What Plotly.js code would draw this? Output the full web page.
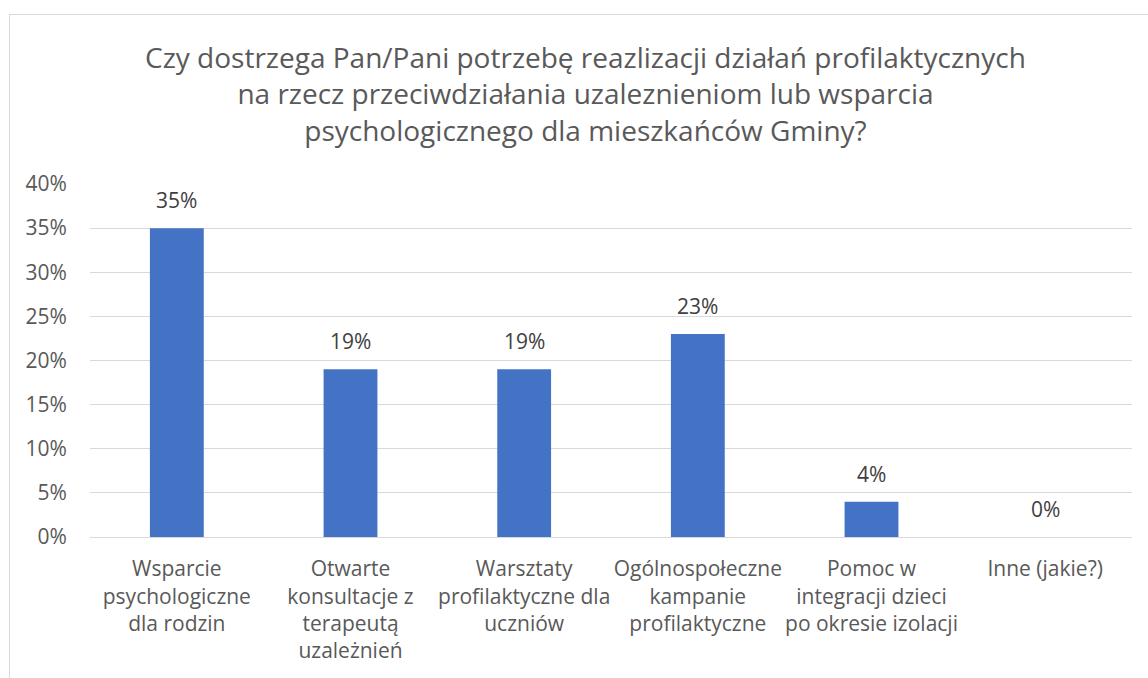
<!DOCTYPE html>
<html>
<head>
<meta charset="utf-8">
<script src="https://cdn.plot.ly/plotly-3.0.1.min.js"></script>
<style>
html,body{margin:0;padding:0;background:#fff;overflow:hidden;}
#frame{position:absolute;left:9px;top:14px;width:1200px;height:700px;border-left:1.5px solid #d9d9d9;border-top:1.5px solid #d9d9d9;pointer-events:none;}
#chart{position:absolute;left:0;top:0;width:1148px;height:678px;}
</style>
</head>
<body>
<div id="chart"></div>
<div id="frame"></div>
<script>
const categories = [
  "Wsparcie<br>psychologiczne<br>dla rodzin",
  "Otwarte<br>konsultacje z<br>terapeutą<br>uzależnień",
  "Warsztaty<br>profilaktyczne dla<br>uczniów",
  "Ogólnospołeczne<br>kampanie<br>profilaktyczne",
  "Pomoc w<br>integracji dzieci<br>po okresie izolacji",
  "Inne (jakie?)"
];
const values = [0.35, 0.19, 0.19, 0.23, 0.04, 0.00];
const titleText = "Czy dostrzega Pan/Pani potrzebę reazlizacji działań profilaktycznych<br>na rzecz przeciwdziałania uzaleznieniom lub wsparcia<br>psychologicznego dla mieszkańców Gminy?";
const yTicks = [0,0.05,0.1,0.15,0.2,0.25,0.3,0.35,0.4];

const fontFam = "Open Sans, sans-serif";
const trace = {
  type: "bar",
  x: categories,
  y: values,
  marker: {color: "#4472C4"},
  width: 0.31,
  hoverinfo: "skip"
};
const annotations = categories.map((c, i) => ({
  x: c, y: values[i], xref: "x", yref: "y",
  text: Math.round(values[i]*100) + "%",
  showarrow: false, yanchor: "bottom", yshift: 12,
  font: {family: fontFam, size: 21, color: "#404040"}
}));
const layout = {
  width: 1148, height: 678,
  margin: {l: 90, r: 16, t: 184, b: 141},
  paper_bgcolor: "#ffffff", plot_bgcolor: "#ffffff",
  showlegend: false,
  title: {
    text: titleText,
    font: {family: fontFam, size: 28, color: "#595959"},
    x: 0.51, xanchor: "center",
    y: 1 - 68/678, yref: "container", yanchor: "top"
  },
  xaxis: {
    type: "category",
    tickfont: {family: fontFam, size: 21, color: "#595959"},
    ticks: "outside", ticklen: 13, tickcolor: "rgba(0,0,0,0)",
    showline: true, linecolor: "#d9d9d9", linewidth: 1,
    fixedrange: true
  },
  yaxis: {
    range: [0, 0.4],
    tickvals: yTicks,
    tickformat: ".0%",
    tickfont: {family: fontFam, size: 21, color: "#595959"},
    gridcolor: "#d9d9d9", gridwidth: 1,
    zeroline: false,
    ticks: "outside", ticklen: 18, tickcolor: "rgba(0,0,0,0)",
    fixedrange: true
  },
  annotations: annotations
};
Plotly.newPlot("chart", [trace], layout, {displayModeBar: false, staticPlot: true});
</script>
</body>
</html>
